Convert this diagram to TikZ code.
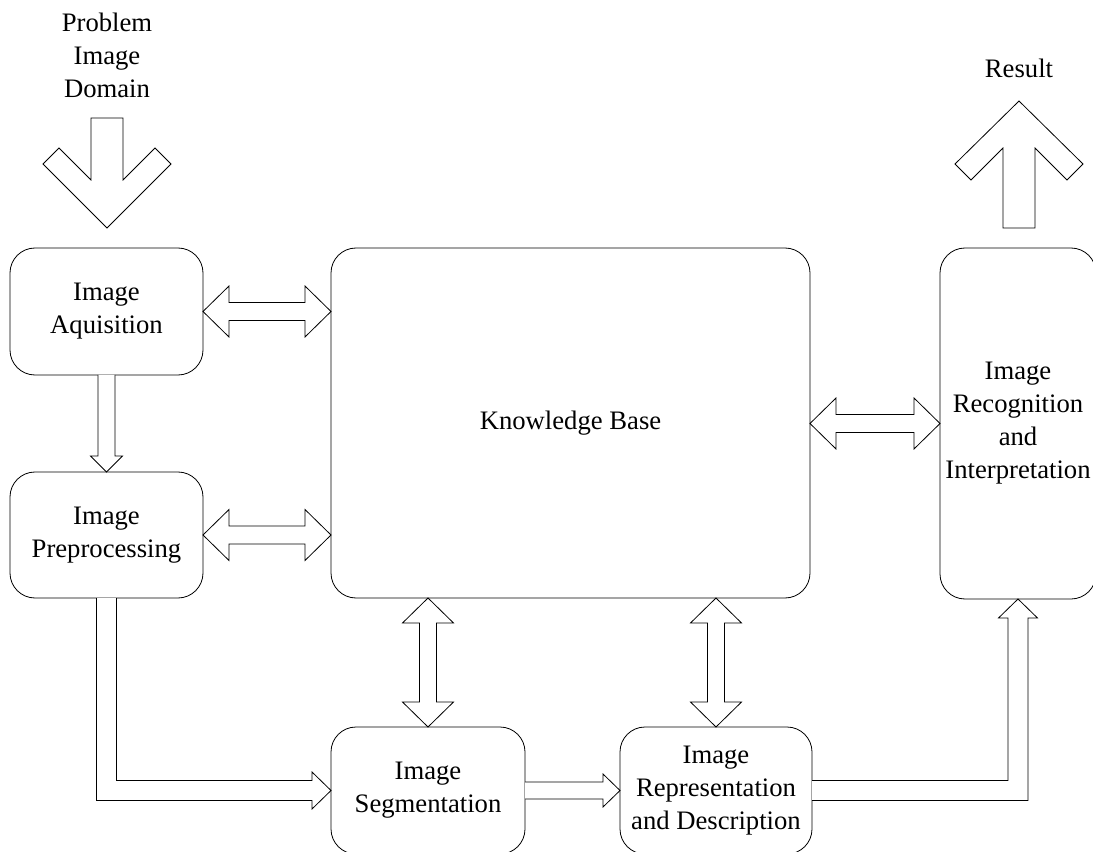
\documentclass[tikz,border=0pt]{standalone}
\usepackage{fontspec}
\setmainfont{Liberation Serif}
\usetikzlibrary{calc}

% horizontal double block arrow between two tip points
\newcommand\hdbl[2]{%
  \draw[fat] (#1) -- ($(#1)+(26,-25.5)$) -- ($(#1)+(26,-9)$)
    -- ($(#2)+(-26,-9)$) -- ($(#2)+(-26,-25.5)$) -- (#2)
    -- ($(#2)+(-26,25.5)$) -- ($(#2)+(-26,9)$)
    -- ($(#1)+(26,9)$) -- ($(#1)+(26,25.5)$) -- cycle;}
% vertical double block arrow between a top tip and a bottom tip
\newcommand\vdbl[2]{%
  \draw[fat] (#1) -- ($(#1)+(25.5,25)$) -- ($(#1)+(8.5,25)$)
    -- ($(#2)+(8.5,-25)$) -- ($(#2)+(25.5,-25)$) -- (#2)
    -- ($(#2)+(-25.5,-25)$) -- ($(#2)+(-8.5,-25)$)
    -- ($(#1)+(-8.5,25)$) -- ($(#1)+(-25.5,25)$) -- cycle;}

\begin{document}
\begin{tikzpicture}[x=0.75pt,y=-0.75pt,line join=miter,
  txt/.style={font=\fontsize{20}{24.75}\selectfont,align=center},
  box/.style={txt,draw,line width=0.6pt,rounded corners=18.75pt,
              inner sep=0pt,outer sep=0pt},
  fat/.style={draw,line width=0.6pt,fill=white}]
\useasboundingbox (0,0) rectangle (1093,852);

% processing stages
\node[box,minimum width=144.75pt,minimum height=95.25pt] (aq)  at (106.5,311.5) {Image\\Aquisition};
\node[box,minimum width=144.75pt,minimum height=94.5pt]  (pre) at (106.5,535)   {Image\\Preprocessing};
\node[box,minimum width=359.25pt,minimum height=262.5pt] (kb)  at (570.5,423)   {Knowledge Base};
\node[box,minimum width=117pt,minimum height=263.25pt]   (rec) at (1018,423.5)  {Image\\Recognition\\and\\Interpretation};
\node[box,minimum width=145.5pt,minimum height=95.25pt]  (seg) at (428,790.5)   {Image\\Segmentation};
\node[box,minimum width=144pt,minimum height=95.25pt]    (rep) at (716,790.5)   {Image\\Representation\\and Description};

% input and output labels
\node[txt] (dom) at (107,55) {Problem\\Image\\Domain};
\node[txt] (res) at (1019,68) {Result};

% input arrow into acquisition
\coordinate (dtip) at ($(aq.north)+(0.5,-20)$);
\draw[fat] ($(dtip)+(-16,-110)$) -- ($(dtip)+(-16,-48)$) -- ($(dtip)+(-48,-80)$)
  -- ($(dtip)+(-64,-64)$) -- (dtip) -- ($(dtip)+(64,-64)$) -- ($(dtip)+(48,-80)$)
  -- ($(dtip)+(16,-48)$) -- ($(dtip)+(16,-110)$) -- cycle;

% output arrow leaving recognition
\coordinate (ubase) at ($(rec.north)+(1,-20)$);
\coordinate (utip) at ($(ubase)+(0,-127)$);
\draw[fat] (utip) -- ($(utip)+(64,63)$) -- ($(utip)+(48,79)$) -- ($(utip)+(16,47)$)
  -- ($(ubase)+(16,0)$) -- ($(ubase)+(-16,0)$) -- ($(utip)+(-16,47)$)
  -- ($(utip)+(-48,79)$) -- ($(utip)+(-64,63)$) -- cycle;

% exchanges with the knowledge base
\coordinate (k1) at (kb.west |- aq.east);
\coordinate (k2) at (kb.west |- pre.east);
\coordinate (k3) at (kb.east |- rec.west);
\coordinate (k4) at (seg.north |- kb.south);
\coordinate (k5) at (rep.north |- kb.south);
\hdbl{aq.east}{k1}
\hdbl{pre.east}{k2}
\hdbl{k3}{rec.west}
\vdbl{k4}{seg.north}
\vdbl{k5}{rep.north}

% acquisition to preprocessing
\draw[fat] ($(aq.south)+(-8.5,0)$) -- ($(pre.north)+(-8.5,-16)$) -- ($(pre.north)+(-16,-16)$)
  -- (pre.north) -- ($(pre.north)+(16,-16)$) -- ($(pre.north)+(8.5,-16)$) -- ($(aq.south)+(8.5,0)$);

% preprocessing to segmentation
\coordinate (c1) at (pre.south |- seg.west);
\draw[fat] ($(pre.south)+(-10,0)$) -- ($(c1)+(-10,10)$) -- ($(seg.west)+(-19,10)$)
  -- ($(seg.west)+(-19,18.5)$) -- (seg.west) -- ($(seg.west)+(-19,-18.5)$)
  -- ($(seg.west)+(-19,-10)$) -- ($(c1)+(10,-10)$) -- ($(pre.south)+(10,0)$);

% segmentation to representation
\draw[fat] ($(seg.east)+(0,-8.5)$) -- ($(rep.west)+(-17,-8.5)$) -- ($(rep.west)+(-17,-16.5)$)
  -- (rep.west) -- ($(rep.west)+(-17,16.5)$) -- ($(rep.west)+(-17,8.5)$) -- ($(seg.east)+(0,8.5)$);

% representation to recognition
\coordinate (c2) at (rec.south |- rep.east);
\draw[fat] ($(rep.east)+(0,-10)$) -- ($(c2)+(-10,-10)$) -- ($(rec.south)+(-10,19)$)
  -- ($(rec.south)+(-19.5,19)$) -- (rec.south) -- ($(rec.south)+(19.5,19)$)
  -- ($(rec.south)+(10,19)$) -- ($(c2)+(10,10)$) -- ($(rep.east)+(0,10)$);
\end{tikzpicture}
\end{document}
